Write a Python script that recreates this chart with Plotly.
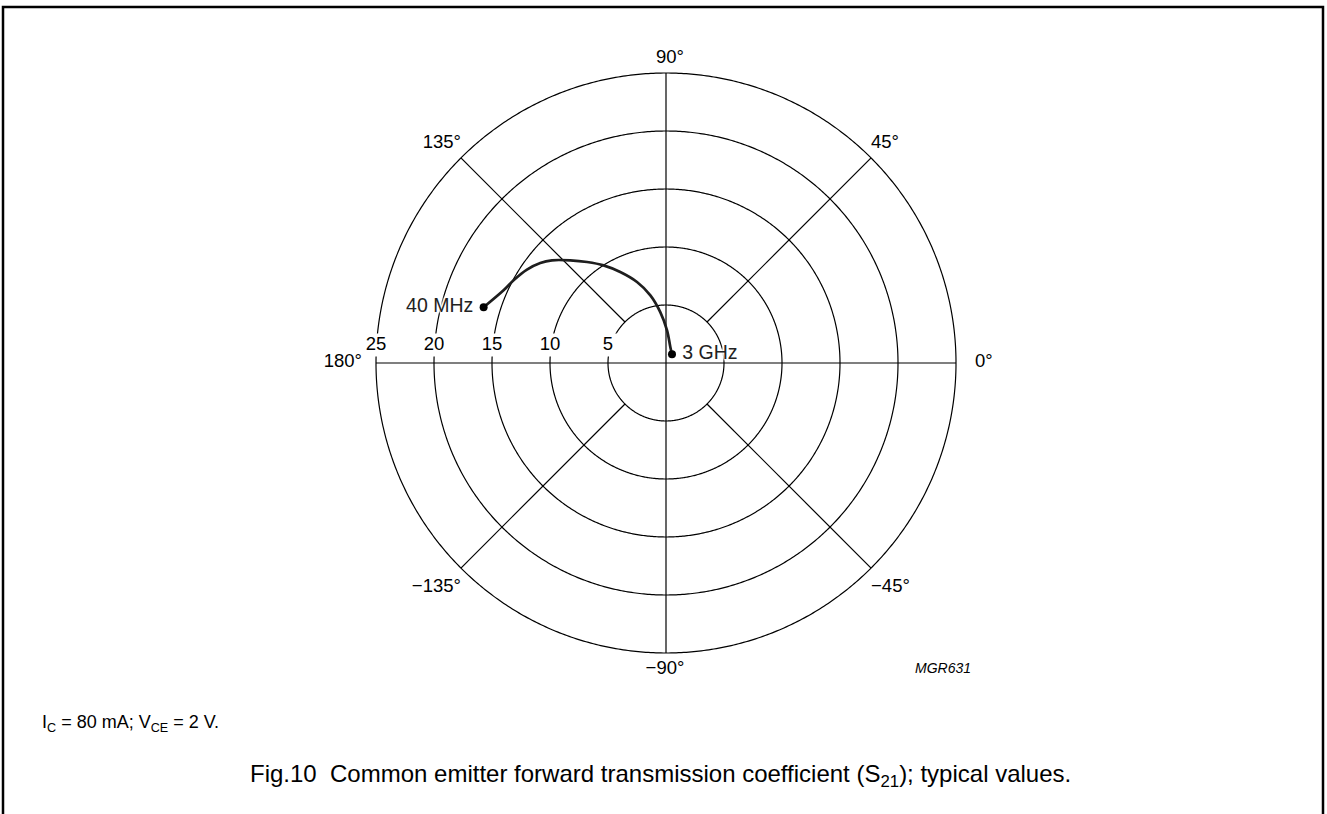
import numpy as np
import plotly.graph_objects as go

# ---------------- data ----------------
RING_RADII = [5, 10, 15, 20, 25]
RING_LABELS = ["5", "10", "15", "20", "25"]
SPOKE_ANGLES = [45, 135, -135, -45]
AXIS_ANGLES = [0, 90, 180, -90]
ANGLE_TICKS = [0, 45, 90, 135, 180, -135, -90, -45]
ANGLE_LABELS = ["0°", "45°", "90°", "135°", "180°", "−135°", "−90°", "−45°"]

# |S21| and phase (deg), 40 MHz -> 3 GHz
S21_MAG = [16.44, 15.34, 14.95, 14.44, 13.85, 13.23, 12.10, 11.05, 9.99,
           8.78, 7.42, 5.99, 4.42, 2.82, 1.43, 0.91]
S21_PHASE = [163.0, 155.9, 151.5, 146.1, 141.5, 138.0, 133.0, 128.0, 122.6,
             116.7, 109.7, 103.0, 96.4, 88.2, 74.9, 55.4]
END_LABELS = ["40 MHz", "3 GHz"]

FONT = "Arial, Liberation Sans, Helvetica, sans-serif"
W, H = 1327, 814
CX, CY, R = 666, 363, 290  # polar centre / radius of the 25 ring, in pixels
RMAX = RING_RADII[-1]
PX = R / RMAX            # pixels per unit
RANGE_MAX = 31.25        # radial range (room for labels outside the 25 ring)
RD = RANGE_MAX * PX      # domain radius in pixels
HALO = ", ".join(["white 0px 0px 3px"] * 6)


def offset_polar(r, theta, ox, oy):
    """polar point shifted by (ox, oy) pixels (y up)"""
    t = np.radians(theta)
    x = r * np.cos(t) + ox / PX
    y = r * np.sin(t) + oy / PX
    return float(np.hypot(x, y)), float(np.degrees(np.arctan2(y, x)))


fig = go.Figure()
LINE = dict(color="black", width=1.2)

# rings
circ = np.linspace(0, 360, 721)
for rr in RING_RADII:
    fig.add_trace(go.Scatterpolar(r=[rr] * len(circ), theta=circ, mode="lines",
                                  line=LINE, hoverinfo="skip", cliponaxis=False))

# axes through centre
fig.add_trace(go.Scatterpolar(
    r=[RMAX, 0, RMAX, None, RMAX, 0, RMAX],
    theta=[AXIS_ANGLES[2], 0, AXIS_ANGLES[0], None, AXIS_ANGLES[1], 0, AXIS_ANGLES[3]],
    mode="lines", line=LINE, hoverinfo="skip", cliponaxis=False))

# diagonal spokes (from inner ring outward)
sr, st = [], []
for a in SPOKE_ANGLES:
    sr += [RING_RADII[0], RMAX, None]
    st += [a, a, None]
fig.add_trace(go.Scatterpolar(r=sr, theta=st, mode="lines", line=LINE,
                              hoverinfo="skip", cliponaxis=False))

# ring labels along the 180 deg axis (white knock-out behind them)
rl = [offset_polar(rr, 180, 0, 18) for rr in RING_RADII]
fig.add_trace(go.Scatterpolar(r=[p[0] for p in rl], theta=[p[1] for p in rl],
                              mode="markers+text", text=RING_LABELS,
                              textposition="middle center",
                              marker=dict(size=23, color="white", symbol="square"),
                              textfont=dict(family=FONT, size=18.5, color="black"),
                              hoverinfo="skip", cliponaxis=False))

# angle labels
label_style = {  # textposition, pixel offset (x, y-up) from ring crossing
    0: ("middle right", 19, 1), 45: ("middle right", 0, 15),
    90: ("middle center", 4, 15), 135: ("middle left", 0, 15),
    180: ("middle left", -14, 1), -135: ("middle left", 0, -19),
    -90: ("middle center", -1, -16), -45: ("middle right", 0, -19)}
al = [offset_polar(RMAX, a, label_style[a][1], label_style[a][2]) for a in ANGLE_TICKS]
fig.add_trace(go.Scatterpolar(r=[p[0] for p in al], theta=[p[1] for p in al],
                              mode="text", text=ANGLE_LABELS,
                              textposition=[label_style[a][0] for a in ANGLE_TICKS],
                              textfont=dict(family=FONT, size=18.5, color="black"),
                              hoverinfo="skip", cliponaxis=False))

# S21 curve
fig.add_trace(go.Scatterpolar(r=S21_MAG, theta=S21_PHASE, mode="lines",
                              line=dict(color="#1e1e1e", width=2.7, shape="spline"),
                              hoverinfo="skip", cliponaxis=False))
end_r = [S21_MAG[0], S21_MAG[-1]]
end_t = [S21_PHASE[0], S21_PHASE[-1]]
fig.add_trace(go.Scatterpolar(r=end_r, theta=end_t, mode="markers+text",
                              text=END_LABELS,
                              textposition=["middle left", "middle right"],
                              marker=dict(size=15, color="rgba(0,0,0,0)"),
                              textfont=dict(family=FONT, size=19.5, color="#222",
                                            shadow=HALO),
                              hoverinfo="skip", cliponaxis=False))
fig.add_trace(go.Scatterpolar(r=end_r, theta=end_t, mode="markers",
                              marker=dict(size=8, color="black"),
                              hoverinfo="skip", cliponaxis=False))

fig.update_layout(
    width=W, height=H, autosize=False,
    margin=dict(l=0, r=0, t=0, b=0),
    paper_bgcolor="white", showlegend=False,
    polar=dict(
        domain=dict(x=[(CX - RD) / W, (CX + RD) / W],
                    y=[max(0.0, 1 - (CY + RD) / H), min(1.0, 1 - (CY - RD) / H)]),
        bgcolor="rgba(0,0,0,0)",
        radialaxis=dict(range=[0, RANGE_MAX], visible=False),
        angularaxis=dict(visible=False, rotation=0, direction="counterclockwise"),
    ),
    shapes=[dict(type="path", xref="paper", yref="paper",
                 path=f"M {3 / W} -0.01 L {3 / W} {1 - 7 / H} L {1323 / W} {1 - 7 / H} L {1323 / W} -0.01",
                 line=dict(color="black", width=2.5))],
    annotations=[
        dict(text="<i>MGR631</i>", x=943 / W, y=1 - 668 / H, xref="paper", yref="paper",
             xanchor="center", yanchor="middle", showarrow=False,
             font=dict(family=FONT, size=14, color="black")),
        dict(text="I<sub>C</sub> = 80 mA; V<sub>CE</sub> = 2 V.", x=40 / W, y=1 - 723 / H,
             xref="paper", yref="paper", xanchor="left", yanchor="middle", showarrow=False,
             font=dict(family=FONT, size=18, color="black")),
        dict(text="Fig.10  Common emitter forward transmission coefficient (S<sub>21</sub>); typical values.",
             x=660 / W, y=1 - 775 / H, xref="paper", yref="paper",
             xanchor="center", yanchor="middle", showarrow=False,
             font=dict(family=FONT, size=24, color="black")),
    ],
)

fig.write_html("out.html", config={"displayModeBar": False},
               post_script="document.body.style.margin='0';document.body.style.overflow='hidden';")
